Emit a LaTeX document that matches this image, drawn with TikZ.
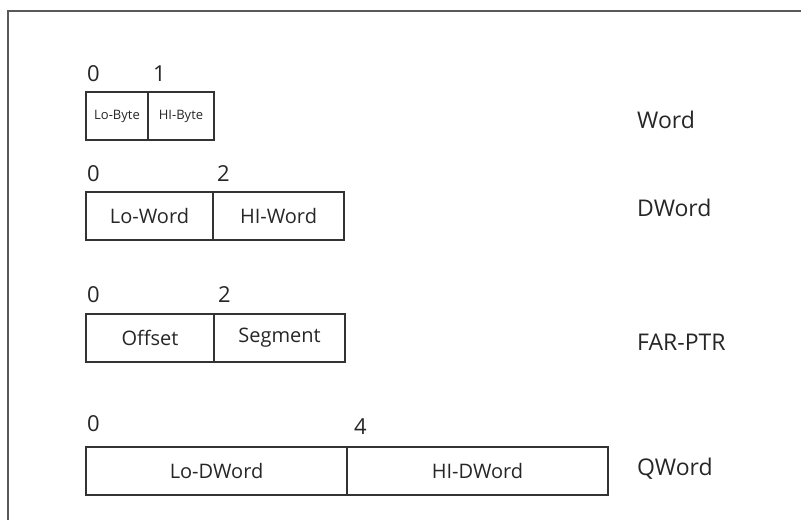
\documentclass[tikz,border=0pt]{standalone}
\usepackage{fontspec}
\setmainfont{Open Sans}
\usetikzlibrary{positioning}

\begin{document}
\begin{tikzpicture}[x=1pt, y=-1pt, node distance=0pt, font=\fontsize{20}{24}\selectfont]
\tikzset{
  cell/.style={draw=black!80, line width=1.4pt, outer sep=0pt, inner sep=0pt, minimum height=48pt, text=black!85},
  smallcell/.style={cell, font=\fontsize{13}{15}\selectfont},
  idx/.style={inner sep=0pt, text=black!85, font=\fontsize{22}{26}\selectfont},
  typename/.style={anchor=west, inner sep=0pt, text=black!85, font=\fontsize{23}{28}\selectfont},
  frame/.style={draw=black!65, line width=1.6pt},
}
\useasboundingbox (0,0) rectangle (801,520);

% outer frame, open to the right and bottom
\draw[frame] (801,11) -- (8,11) -- (8,520);

% Word
\node (lobyte) [smallcell, minimum width=62pt, anchor=north west] at (86,92) {Lo-Byte};
\node (hibyte) [smallcell, minimum width=66pt, right=of lobyte] {HI-Byte};
\node (w0) [idx, above right=10pt and 1pt of lobyte.north west] {0};
\node (w1) [idx, above right=10pt and 5pt of hibyte.north west] {1};
\node (tword) [typename] at (637,120) {Word};

% DWord
\node (loword) [cell, minimum width=127pt, anchor=north west] at (86,192) {Lo-Word};
\node (hiword) [cell, minimum width=131pt, right=of loword] {HI-Word};
\node (d0) [idx, above right=10pt and 1pt of loword.north west] {0};
\node (d2) [idx, above right=10pt and 4pt of hiword.north west] {2};
\node (tdword) [typename] at (637,208) {DWord};

% FAR-PTR
\node (offs) [cell, minimum width=128pt, anchor=north west] at (86,314) {Offset};
\node (segm) [cell, minimum width=131pt, right=of offs] {Segment};
\node (f0) [idx, above right=11pt and 1pt of offs.north west] {0};
\node (f2) [idx, above right=11pt and 4pt of segm.north west] {2};
\node (tfar) [typename] at (637,342) {FAR-PTR};

% QWord
\node (lodword) [cell, minimum width=261pt, anchor=north west] at (86,447) {Lo-DWord};
\node (hidword) [cell, minimum width=261pt, right=of lodword] {HI-DWord};
\node (q0) [idx, above right=15pt and 1pt of lodword.north west] {0};
\node (q4) [idx, above right=12pt and 7pt of hidword.north west] {4};
\node (tqword) [typename] at (637,469) {QWord};

\end{tikzpicture}
\end{document}
